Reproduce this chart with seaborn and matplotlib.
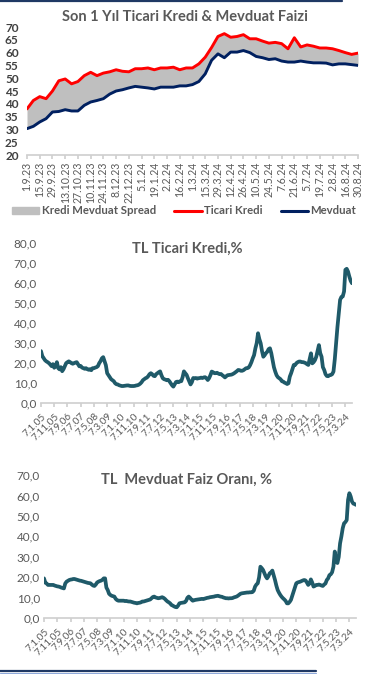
import matplotlib
matplotlib.use("Agg")
import matplotlib.pyplot as plt
import numpy as np
import pandas as pd
import seaborn as sns
from matplotlib.lines import Line2D
from matplotlib.patches import Patch

# ---------------- data ----------------
# Top chart: weekly, 1.9.2023 .. 30.8.2024
week_start = "2023-09-01"
ticari_kredi = [38, 41.3, 42.8, 42, 45, 49, 49.7, 47.8, 48.7, 51, 52.3, 51, 52, 52.5,
                53.3, 52.7, 52.5, 53.7, 53.7, 54, 53.3, 54, 54, 54.3, 53.3, 54, 54,
                55.6, 58.2, 62, 66.3, 67.4, 66, 66.3, 67, 65.4, 65.4, 64.5, 63.7, 64,
                63.5, 61.5, 65.8, 62.2, 63, 62.5, 61.8, 61.8, 61.5, 60.8, 60, 59.3, 59.8]
mevduat = [30.3, 31.2, 32.9, 34.2, 36.8, 37, 37.7, 37.2, 37.2, 39.4, 40.7, 41.3, 42,
           43.8, 45, 45.5, 46.2, 46.8, 46.5, 46.2, 45.8, 46.5, 46.5, 46.5, 47, 47,
           47.5, 48.7, 51.7, 57, 59.5, 58, 60.2, 60.2, 60.8, 60, 58.5, 58, 57.3, 57.6,
           56.7, 56.3, 56.3, 56.7, 56.3, 56, 56, 55.9, 55.2, 55.6, 55.6, 55.3, 55]

# Long charts: monthly, Jan 2005 .. Aug 2024
tl_ticari_kredi = [
    26, 23.5, 22.5, 21.5, 20.9, 20.5, 20, 19.3, 18.5, 19.5, 17.7, 18.5,
    20.5, 17.5, 16.9, 18, 16, 17, 18.5, 20, 20.5, 20.9, 20.5, 20,
    19.7, 20, 20.3, 20.5, 19.5, 18.4, 18.6, 17.8, 17.5, 17.2, 17.5, 17,
    16.7, 17, 16.5, 17.5, 17.5, 17.8, 18, 18.5, 20, 21, 22.4, 23,
    21, 19, 15, 14, 13, 12, 11.5, 11, 10, 9.5, 9.4, 9,
    8.8, 8.6, 8.6, 8.7, 8.8, 8.9, 8.9, 8.7, 8.6, 8.6, 8.6, 8.7,
    8.9, 9, 9.3, 9.8, 10.5, 11.5, 12, 12.5, 12.8, 13.5, 14.5, 15,
    14.5, 13.7, 13.5, 14.5, 15, 15.5, 15.9, 14, 12.5, 12, 11.8, 11.5,
    11.7, 11, 10, 9, 8.3, 9.5, 10.6, 10.8, 10.5, 11, 11, 13,
    15.9, 15, 14.2, 12.5, 11, 9.4, 10.5, 12.6, 12.5, 12.6, 12.3, 12.5,
    12.6, 12.8, 12.6, 12.9, 13, 12.5, 11.6, 12.5, 14, 15.8, 15.5, 15,
    15, 15.2, 14.8, 14.5, 14.6, 14, 13.5, 12.9, 13.5, 14, 14.1, 14.2,
    14.3, 14.6, 15, 15.5, 16, 16.6, 16.5, 16.2, 16.2, 16.5, 17, 17.5,
    17.5, 17.9, 19, 20.5, 22.4, 24, 27.4, 30, 34.9, 32, 29.9, 26,
    23.2, 24, 25, 25.7, 27, 27.4, 25, 21.6, 18, 15.8, 14, 13,
    12.5, 12, 11, 10.8, 10.3, 10, 9.6, 10, 13.3, 15, 17, 19.1,
    19.1, 20, 20.5, 20.8, 20.8, 20.5, 20.5, 20.3, 20, 19.5, 19.1, 22,
    24.9, 19.9, 20.5, 21.5, 23.2, 26, 29, 25, 23.2, 18, 16.6, 14.5,
    13.6, 13.5, 14, 14.1, 14.5, 15.8, 22, 30, 38, 45, 51.5, 53,
    53.2, 55.7, 66.5, 67, 65.6, 63.1, 61, 59.8]
tl_mevduat = [
    19.5, 17.4, 17, 16.3, 16.3, 16.3, 16.3, 16.3, 16, 15.8, 15.6, 15.5,
    15.3, 15, 14.8, 14.6, 17, 17.9, 18.3, 18.7, 18.9, 19, 19.2, 19.2,
    19, 18.8, 18.6, 18.4, 18.3, 18.1, 17.9, 17.7, 17.5, 17.3, 17.2, 17.1,
    16.5, 16, 15.8, 16.5, 17.5, 17.9, 18.2, 18.4, 18.8, 19.5, 19.5, 15,
    13.8, 12, 11.4, 11, 10.8, 10.6, 9.5, 8.9, 8.6, 8.6, 8.6, 8.6,
    8.6, 8.4, 8.5, 8.3, 8.2, 8.2, 8, 7.8, 7.6, 7.5, 7.3, 7.5,
    7.6, 7.8, 8.2, 8.2, 8.4, 8.6, 8.8, 9, 9.2, 9.8, 10.4, 10.6,
    10.2, 10, 9.8, 9.9, 10.1, 10.3, 10, 9.5, 8.8, 8.2, 7.8, 7.3,
    6.5, 6.2, 5.8, 5.5, 5.4, 6.2, 7.3, 7.5, 7.6, 7.7, 7.8, 8.5,
    10, 10.6, 10, 9.2, 8.6, 8.8, 9, 9.1, 9.2, 9.3, 9.4, 9.5,
    9.4, 9.6, 9.8, 10, 10.1, 10.3, 10.4, 10.5, 10.6, 10.8, 10.9, 11,
    10.8, 10.6, 10.5, 10.2, 10, 9.8, 9.8, 9.7, 9.8, 9.8, 9.9, 10.2,
    10.4, 10.6, 11, 11.5, 12, 12.2, 12.3, 12.4, 12.5, 12.6, 12.6, 12.7,
    12.7, 12.8, 13.5, 15.5, 16.5, 17.1, 20, 25.2, 24.5, 23.6, 22, 20.5,
    19.5, 20.5, 22, 22.5, 23.3, 21, 18.7, 16, 13.8, 12.5, 11.4, 10.5,
    9.8, 9.2, 8.5, 7.3, 7.3, 8, 9, 11, 13, 15, 17.1, 17.5,
    17.7, 17.9, 18.2, 18.5, 18.7, 18.5, 17.5, 16.3, 17, 19, 17.5, 15.5,
    15.8, 16.3, 16.3, 16.5, 16.3, 16, 15.8, 16.5, 17, 18.7, 19.5, 21.1,
    21.5, 22.5, 25.2, 32.6, 28, 27, 30, 36.6, 40, 44, 46.4, 47,
    48, 57.8, 61.1, 59.5, 57, 56, 55.8, 55.4]
long_tick_labels = ["7.1.05", "7.11.05", "7.9.06", "7.7.07", "7.5.08", "7.3.09",
                    "7.1.10", "7.11.10", "7.9.11", "7.7.12", "7.5.13", "7.3.14",
                    "7.1.15", "7.11.15", "7.9.16", "7.7.17", "7.5.18", "7.3.19",
                    "7.1.20", "7.11.20", "7.9.21", "7.7.22", "7.5.23", "7.3.24"]

# ---------------- style ----------------
sns.set_theme(style="white")
plt.rcParams["font.family"] = ["Lato", "DejaVu Sans"]
GRAY_TXT = "#595959"
TEAL = "#1F5A69"
AXIS_GRAY = "#D0D0D0"

W, H = 368, 674
fig = plt.figure(figsize=(W / 100, H / 100), dpi=100)

def rect(x0, x1, y_top, y_bot):
    return [x0 / W, 1 - y_bot / H, (x1 - x0) / W, (y_bot - y_top) / H]

# ---------------- chart 1 ----------------
dates = pd.date_range(week_start, periods=len(ticari_kredi), freq="7D")
week_labels = [f"{d.day}.{d.month}.{d.year % 100:02d}" for d in dates]
df1 = pd.DataFrame({"i": np.arange(len(dates)), "Ticari Kredi": ticari_kredi,
                    "Mevduat": mevduat})
ax1 = fig.add_axes(rect(27, 358, 27, 155))
ax1.fill_between(df1["i"], df1["Mevduat"], df1["Ticari Kredi"], color="#BFBFBF", lw=0)
sns.lineplot(data=df1, x="i", y="Ticari Kredi", ax=ax1, color="#FF0000", lw=2.1)
sns.lineplot(data=df1, x="i", y="Mevduat", ax=ax1, color="#002060", lw=2.1)
ax1.set_xlim(0, len(dates) - 1)
ax1.set_ylim(20, 70)
ax1.set_yticks(range(20, 71, 5))
ax1.set_xticks(df1["i"][::2])
ax1.set_xticklabels(week_labels[::2], rotation=90, fontsize=7.6, color=GRAY_TXT)
ax1.set_xlabel("")
ax1.set_ylabel("")
for lab in ax1.get_yticklabels():
    lab.set_fontweight("bold")
    lab.set_fontsize(8.5)
    lab.set_color("#404040")
for s in ["top", "right", "left"]:
    ax1.spines[s].set_visible(False)
ax1.spines["bottom"].set_color(AXIS_GRAY)
ax1.tick_params(axis="x", length=3, color=AXIS_GRAY, pad=2, bottom=True)
ax1.tick_params(axis="y", length=0, pad=6)
fig.text(185 / W, 1 - 17 / H, "Son 1 Yıl Ticari Kredi & Mevduat Faizi", ha="center",
         va="center", fontsize=10.5, fontweight="bold", color=GRAY_TXT)
handles = [Patch(color="#BFBFBF", label="Kredi Mevduat Spread"),
           Line2D([], [], color="#FF0000", lw=2.2, label="Ticari Kredi"),
           Line2D([], [], color="#002060", lw=2.2, label="Mevduat")]
leg = fig.legend(handles=handles, loc="center", bbox_to_anchor=(184 / W, 1 - 211 / H),
                 ncol=3, frameon=False, fontsize=8.2, handlelength=2.4,
                 handleheight=0.6, handletextpad=0.2, columnspacing=1.6)
for t in leg.get_texts():
    t.set_fontweight("bold")
    t.set_color(GRAY_TXT)

# ---------------- long charts ----------------
def long_chart(values, box, ylim, title, title_y):
    ax = fig.add_axes(box)
    df = pd.DataFrame({"m": np.arange(len(values)), "v": values})
    sns.lineplot(data=df, x="m", y="v", ax=ax, color=TEAL, lw=2.7)
    ax.set_xlim(0, len(values) - 1)
    ax.set_ylim(*ylim)
    ax.set_yticks(range(ylim[0], ylim[1] + 1, 10))
    ax.set_yticklabels([f"{v},0" for v in range(ylim[0], ylim[1] + 1, 10)],
                       fontsize=8.5, color=GRAY_TXT)
    ax.set_xticks(range(0, 10 * len(long_tick_labels), 10))
    ax.set_xticklabels(long_tick_labels, rotation=45, ha="right",
                       rotation_mode="anchor", fontsize=7.3, color=GRAY_TXT)
    ax.set_xlabel("")
    ax.set_ylabel("")
    for s in ["top", "right", "left"]:
        ax.spines[s].set_visible(False)
    ax.spines["bottom"].set_color(AXIS_GRAY)
    ax.tick_params(axis="x", length=3, color=AXIS_GRAY, pad=3, bottom=True)
    ax.tick_params(axis="y", length=0, pad=3)
    fig.text(187 / W, 1 - title_y / H, title, ha="center", va="center",
             fontsize=10.5, fontweight="bold", color=GRAY_TXT)
    return ax

long_chart(tl_ticari_kredi, rect(41, 352, 242.7, 403.3), (0, 80), "TL Ticari Kredi,%", 249)
long_chart(tl_mevduat, rect(44, 356, 475, 618.3), (0, 70), "TL  Mevduat Faiz Oranı, %", 480)

# ---------------- decorative frame lines ----------------
fig.add_artist(Line2D([0, 342 / W], [1 - 1 / H, 1 - 1 / H], color="#1F3864", lw=1.6,
                      transform=fig.transFigure))
fig.add_artist(Line2D([0, 316 / W], [1 - 671 / H, 1 - 671 / H], color="#1F3864", lw=1.6,
                      transform=fig.transFigure))
fig.add_artist(Line2D([0, 316 / W], [1 - 672.5 / H, 1 - 672.5 / H], color="#8EA9DB",
                      lw=0.8, transform=fig.transFigure))

fig.savefig("out.png", dpi=100)
